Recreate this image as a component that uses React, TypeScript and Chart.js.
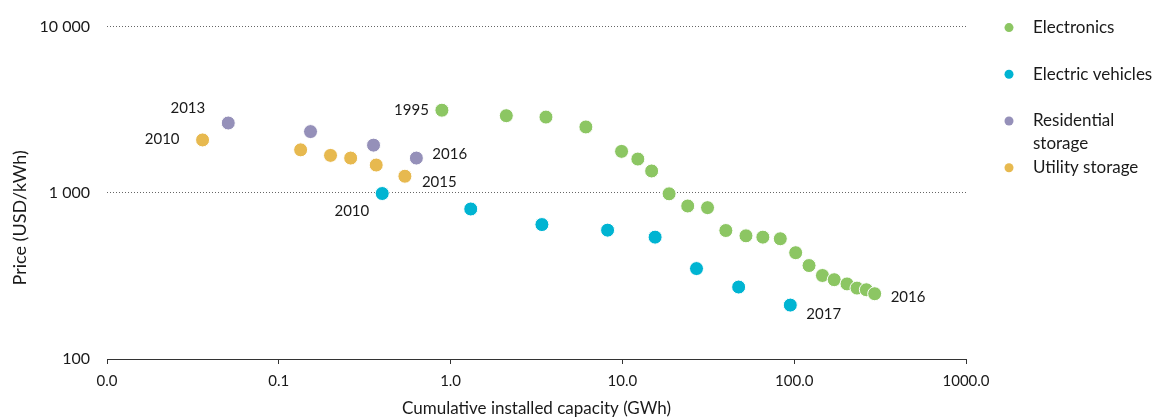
import React, { useEffect, useRef } from "react";
import { Chart, registerables } from "chart.js";

Chart.register(...registerables);

// ---- Data (cumulative installed capacity in GWh, price in USD/kWh) ----
const electronicsCapacity = [0.89, 2.11, 3.59, 6.13, 9.89, 12.3, 14.8, 18.7, 24.0, 31.3, 40.0, 52.4, 65.7, 83.0, 102, 122, 146, 171, 203, 232, 263, 294];
const electronicsPrice = [3140, 2910, 2855, 2490, 1775, 1596, 1353, 986, 833, 814, 593, 551, 541, 529, 436, 365, 318, 300, 283, 267, 261, 247];

const evCapacity = [0.40, 1.31, 3.40, 8.2, 15.5, 27.0, 47.5, 94.9];
const evPrice = [990, 799, 644, 596, 541, 350, 271, 211];

const residentialCapacity = [0.0508, 0.153, 0.356, 0.632];
const residentialPrice = [2630, 2335, 1935, 1618];

const utilityCapacity = [0.036, 0.134, 0.200, 0.262, 0.369, 0.542];
const utilityPrice = [2080, 1813, 1679, 1618, 1469, 1258];

const seriesNames = ["Electronics", "Electric vehicles", "Residential storage", "Utility storage"];
const seriesColors = ["#8CC663", "#00B4D2", "#9590B9", "#E7B94F"];

const xTickValues = [0.01, 0.1, 1, 10, 100, 1000];
const yTickValues = [100, 1000, 10000];

const electronicsYears = ["1995", "2016"];
const evYears = ["2010", "2017"];
const residentialYears = ["2013", "2016"];
const utilityYears = ["2010", "2015"];

const xTitle = "Cumulative installed capacity (GWh)";
const yTitle = "Price (USD/kWh)";

const FONT = "Lato, 'Open Sans', sans-serif";
const TEXT = "#1a1a1a";

// annotation placement (offsets from the point, in px)
const annotationSpecs = [
  { ds: 0, first: true, text: electronicsYears[0], dx: -13, dy: 0, align: "right" },
  { ds: 0, first: false, text: electronicsYears[1], dx: 16, dy: 3, align: "left" },
  { ds: 1, first: true, text: evYears[0], dx: -13, dy: 18, align: "right" },
  { ds: 1, first: false, text: evYears[1], dx: 16, dy: 9, align: "left" },
  { ds: 2, first: true, text: residentialYears[0], dx: -23, dy: -15, align: "right" },
  { ds: 2, first: false, text: residentialYears[1], dx: 16, dy: -4, align: "left" },
  { ds: 3, first: true, text: utilityYears[0], dx: -23, dy: -1, align: "right" },
  { ds: 3, first: false, text: utilityYears[1], dx: 17, dy: 6, align: "left" },
];

const toXY = (xs: number[], ys: number[]) => xs.map((x, i) => ({ x, y: ys[i] }));

const annotationPlugin = {
  id: "yearLabels",
  afterDatasetsDraw(chart: any) {
    const ctx = chart.ctx;
    ctx.save();
    ctx.font = `15px ${FONT}`;
    ctx.fillStyle = TEXT;
    ctx.textBaseline = "middle";
    annotationSpecs.forEach((a) => {
      const meta = chart.getDatasetMeta(a.ds);
      const el = a.first ? meta.data[0] : meta.data[meta.data.length - 1];
      if (!el) return;
      ctx.textAlign = a.align;
      ctx.fillText(a.text, el.x + a.dx, el.y + a.dy);
    });
    ctx.restore();
  },
};

const yTitlePlugin = {
  id: "yTitle",
  afterDraw(chart: any) {
    const ctx = chart.ctx;
    const { top, bottom } = chart.chartArea;
    ctx.save();
    ctx.font = `18px ${FONT}`;
    ctx.fillStyle = TEXT;
    ctx.textAlign = "center";
    ctx.textBaseline = "middle";
    ctx.translate(20.5, (top + bottom) / 2 + 25);
    ctx.rotate(-Math.PI / 2);
    ctx.fillText(yTitle, 0, 0);
    ctx.restore();
  },
};

const legendPlugin = {
  id: "sideLegend",
  afterDraw(chart: any) {
    const ctx = chart.ctx;
    const dotX = 1009;
    const textX = 1033;
    const maxW = chart.width - textX - 1;
    const startY = chart.chartArea.top + 1;
    const step = 46.7;
    const lineH = 23;
    ctx.save();
    ctx.font = `17px ${FONT}`;
    ctx.textBaseline = "middle";
    ctx.textAlign = "left";
    chart.data.datasets.forEach((ds: any, i: number) => {
      const y = startY + i * step;
      ctx.fillStyle = ds.backgroundColor;
      ctx.beginPath();
      ctx.arc(dotX, y, 4.5, 0, Math.PI * 2);
      ctx.fill();
      ctx.fillStyle = TEXT;
      const words = String(ds.label).split(" ");
      const lines: string[] = [];
      let cur = "";
      words.forEach((w) => {
        const test = cur ? cur + " " + w : w;
        if (cur && ctx.measureText(test).width > maxW) {
          lines.push(cur);
          cur = w;
        } else cur = test;
      });
      if (cur) lines.push(cur);
      lines.forEach((l, k) => ctx.fillText(l, textX, y + k * lineH));
    });
    ctx.restore();
  },
};

export default function App() {
  const ref = useRef<HTMLCanvasElement | null>(null);
  useEffect(() => {
    if (!ref.current) return;
    const pairs = [
      toXY(electronicsCapacity, electronicsPrice),
      toXY(evCapacity, evPrice),
      toXY(residentialCapacity, residentialPrice),
      toXY(utilityCapacity, utilityPrice),
    ];
    const chart = new Chart(ref.current, {
      type: "scatter",
      data: {
        datasets: pairs.map((d, i) => ({
          label: seriesNames[i],
          data: d,
          backgroundColor: seriesColors[i],
          borderColor: "#ffffff",
          borderWidth: 1,
          pointRadius: 7,
          pointHoverRadius: 7,
        })),
      },
      options: {
        animation: false,
        responsive: true,
        maintainAspectRatio: false,
        layout: { padding: { top: 24, right: 192, left: 0, bottom: 0 } },
        plugins: { legend: { display: false }, tooltip: { enabled: false } },
        scales: {
          x: {
            type: "logarithmic",
            min: 0.01,
            max: 1000,
            afterBuildTicks: (s: any) => {
              s.ticks = xTickValues.map((v) => ({ value: v }));
            },
            afterFit: (s: any) => {
              s.height = 59;
            },
            ticks: {
              callback: (v: any) => Number(v).toFixed(1),
              font: { family: FONT, size: 15 },
              color: TEXT,
              padding: 8,
              maxRotation: 0,
              autoSkip: false,
            },
            grid: { drawOnChartArea: false, drawTicks: true, tickLength: 5, color: "#333" },
            border: { display: true, color: "#333", width: 1 },
            title: {
              display: true,
              text: xTitle,
              font: { family: FONT, size: 17 },
              color: TEXT,
              padding: { top: 0, bottom: -1 },
            },
          },
          y: {
            type: "logarithmic",
            min: 100,
            max: 10000,
            afterBuildTicks: (s: any) => {
              s.ticks = yTickValues.map((v) => ({ value: v }));
            },
            afterFit: (s: any) => {
              s.width = 107;
            },
            ticks: {
              callback: (v: any) => Number(v).toLocaleString("en-US").replace(/,/g, " "),
              font: { family: FONT, size: 16 },
              color: TEXT,
              padding: 17,
              autoSkip: false,
            },
            grid: {
              drawTicks: false,
              color: (c: any) => (c.tick && c.tick.value === 100 ? "rgba(0,0,0,0)" : "#666"),
              lineWidth: 1,
            },
            border: { display: false, dash: [1, 2] },
            title: { display: false },
          },
        },
      },
      plugins: [annotationPlugin, yTitlePlugin, legendPlugin],
    } as any);
    return () => chart.destroy();
  }, []);
  return (
    <div style={{ position: "fixed", left: 0, top: 0, width: 1158, height: 418, background: "#fff" }}>
      <canvas ref={ref} />
    </div>
  );
}
